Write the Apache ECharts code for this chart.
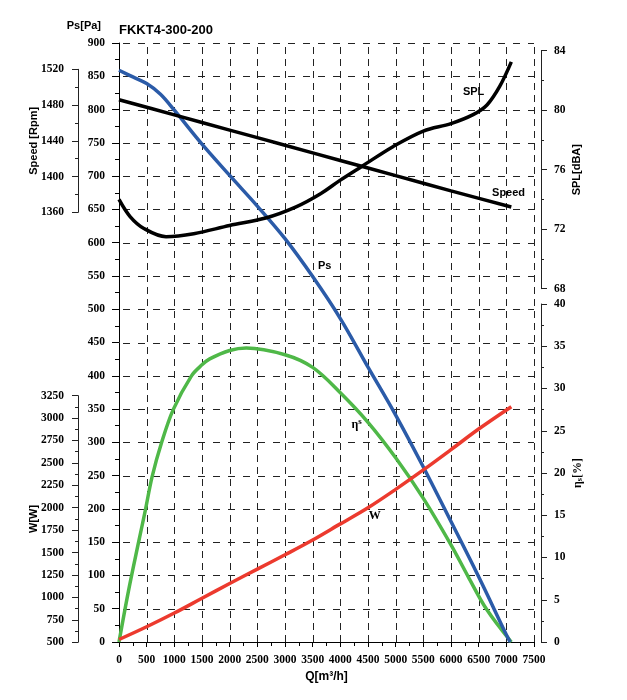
<!DOCTYPE html>
<html>
<head>
<meta charset="utf-8">
<script src="https://cdn.jsdelivr.net/npm/echarts@6/dist/echarts.min.js"></script>
<style>
html,body{margin:0;padding:0;background:#fff;}
#chart{width:627px;height:700px;}
</style>
</head>
<body>
<div id="chart"></div>
<script>
// ---- data ----
var qRange = [0, 7500];            // x-axis range, m3/h
var qStep = 500;
var psRange = [0, 900];
var psStep = 50;
var speedRange = [1360, 1520];
var splRange = [68, 84];
var wRange = [500, 3250];
var effRange = [0, 40];

var qPs = [0, 250, 500, 750, 1000, 1500, 2000, 2500, 3000, 3500, 4000, 4500, 5000, 5500, 6000, 6500, 7000, 7070];
var ps  = [859, 849, 839, 823, 799, 748, 701, 655, 606, 549, 486, 413, 341, 263, 181, 98, 11, 0];

var qSpeed = [0, 1000, 2000, 3000, 4000, 5000, 6000, 7090];
var speed  = [1486, 1469, 1452, 1435, 1418, 1401, 1384, 1366];

var qSpl = [0, 200, 450, 850, 1350, 2000, 2650, 3200, 3650, 4000, 4400, 4950, 5500, 6000, 6400, 6650, 6880, 7090];
var spl  = [74.0, 72.85, 72.05, 71.5, 71.7, 72.25, 72.75, 73.5, 74.4, 75.3, 76.25, 77.55, 78.6, 79.1, 79.7, 80.35, 81.6, 83.25];

var qW = [0, 500, 1000, 1500, 2000, 2500, 3000, 3500, 4000, 4500, 5000, 5500, 6000, 6500, 7090];
var w  = [530, 672, 825, 990, 1155, 1315, 1475, 1640, 1820, 2000, 2205, 2422, 2648, 2878, 3127];

var qEff = [0, 170, 350, 470, 600, 770, 980, 1310, 1500, 1640, 2000, 2300, 3000, 3500, 4000, 4500, 5000, 5500, 6000, 6305, 6640, 7090];
var eff  = [0, 6, 11.7, 15.4, 19.6, 23.6, 27.5, 31.5, 32.8, 33.5, 34.5, 34.8, 34.0, 32.5, 29.5, 26.0, 21.8, 17.0, 11.5, 7.8, 3.9, 0];

// curve label anchor points (data coordinates)
var labelPs = [3718, 565];
var labelSpeed = [7040, 1381.6];
var labelSpl = [6408, 81.2];
var labelEff = [4296, 25.7];
var labelW = [4621, 1905];

function pairs(xs, ys){ return xs.map(function(x,i){ return [x, ys[i]]; }); }
function plain(v){ return String(v); }
function steps(lo, hi, st){ var a = []; for (var v = lo; v <= hi + 1e-9; v += st) a.push(v); return a; }

var gridQ = steps(qRange[0] + qStep, qRange[1], qStep);
var gridP = steps(psRange[0] + psStep, psRange[1], psStep);

var serif = 'Liberation Serif';
var sans = 'Liberation Sans';
var tickLabel = {fontFamily: serif, fontWeight: 'bold', fontSize: 11.5, color: '#000', formatter: plain};
var nameStyle = {fontFamily: sans, fontWeight: 'bold', fontSize: 11, color: '#000'};

function hiddenX(gi){
  return {type:'value', gridIndex: gi, min: qRange[0], max: qRange[1], show: false};
}
function sideY(gi, range, interval, pos, offset, name, nameGap, extra){
  var o = {
    type:'value', gridIndex: gi, min: range[0], max: range[1], interval: interval,
    position: pos, offset: offset,
    axisLine: {show: true, onZero: false, lineStyle: {color: '#222', width: 1}},
    axisTick: {show: true, length: 6, lineStyle: {color: '#222'}},
    minorTick: {show: true, splitNumber: 2, length: 3, lineStyle: {color: '#222'}},
    splitLine: {show: false},
    axisLabel: Object.assign({margin: pos === 'left' ? 14 : 13}, tickLabel),
    name: name, nameLocation: 'middle', nameRotate: 90, nameGap: nameGap,
    nameMoveOverlap: false,
    nameTextStyle: nameStyle
  };
  if (extra) Object.assign(o, extra);
  return o;
}
function lbl(coord, text, style){
  return {
    symbol: 'circle', symbolSize: 1, silent: true,
    itemStyle: {color: 'transparent'},
    label: Object.assign({show: true, position: 'inside', formatter: text}, style),
    data: [{coord: coord}]
  };
}

// dashed grid drawn as short segments through the axes' own scale
function renderGrid(params, api){
  var ch = [];
  var st = {stroke: '#222', lineWidth: 1};
  gridQ.forEach(function(q){
    var a = api.coord([q, psRange[0]]), b = api.coord([q, psRange[1]]);
    var x = Math.round(a[0]) + 0.5;
    for (var y = a[1]; y > b[1]; y -= 12) {
      ch.push({type: 'line', silent: true, shape: {x1: x, y1: y, x2: x, y2: Math.max(y - 7, b[1])}, style: st});
    }
  });
  gridP.forEach(function(p){
    var a = api.coord([qRange[0], p]), b = api.coord([qRange[1], p]);
    var y = Math.round(a[1]) + 0.5;
    for (var x = a[0] + 4; x < b[0]; x += 15) {
      ch.push({type: 'line', silent: true, shape: {x1: x, y1: y, x2: Math.min(x + 7, b[0]), y2: y}, style: st});
    }
  });
  return {type: 'group', children: ch};
}

var chart = echarts.init(document.getElementById('chart'), null, {renderer: 'canvas'});
var gridL = 119, gridR = 93;

var option = {
  animation: false,
  backgroundColor: '#fff',
  title: {
    text: 'FKKT4-300-200', left: 119, top: 24, padding: 0,
    textStyle: {fontFamily: sans, fontWeight: 'bold', fontSize: 13, color: '#000'}
  },
  grid: [
    {left: gridL, right: gridR, top: 43, height: 599},
    {left: gridL, right: gridR, top: 69.3, height: 143},
    {left: gridL, right: gridR, top: 50.7, height: 238},
    {left: gridL, right: gridR, top: 395.7, height: 246.5},
    {left: gridL, right: gridR, top: 304, height: 338}
  ],
  xAxis: [
    {
      type: 'value', gridIndex: 0, min: qRange[0], max: qRange[1], interval: qStep,
      axisLine: {show: true, onZero: false, lineStyle: {color: '#000', width: 1}},
      axisTick: {show: true, length: 5, lineStyle: {color: '#000'}},
      minorTick: {show: true, splitNumber: 2, length: 4, lineStyle: {color: '#000'}},
      splitLine: {show: false},
      axisLabel: Object.assign({margin: 12}, tickLabel),
      name: 'Q[m³/h]', nameLocation: 'middle', nameGap: 28,
      nameTextStyle: {fontFamily: sans, fontWeight: 'bold', fontSize: 12, color: '#000'}
    },
    hiddenX(1), hiddenX(2), hiddenX(3), hiddenX(4)
  ],
  yAxis: [
    {
      type: 'value', gridIndex: 0, min: psRange[0], max: psRange[1], interval: psStep, position: 'left',
      axisLine: {show: true, onZero: false, lineStyle: {color: '#000', width: 1}},
      axisTick: {show: true, length: 7, lineStyle: {color: '#000'}},
      minorTick: {show: true, splitNumber: 2, length: 4, lineStyle: {color: '#000'}},
      splitLine: {show: false},
      axisLabel: Object.assign({margin: 14}, tickLabel),
      name: 'Ps[Pa]', nameLocation: 'end', nameGap: 12,
      nameTextStyle: {fontFamily: sans, fontWeight: 'bold', fontSize: 11, color: '#000', align: 'right', padding: [0, 18, 0, 0]}
    },
    sideY(1, speedRange, 40, 'left', 41, 'Speed [Rpm]', 39),
    sideY(2, splRange, 4, 'right', 7, 'SPL[dBA]', 30),
    sideY(3, wRange, 250, 'left', 41, 'W[W]', 39),
    sideY(4, effRange, 5, 'right', 7, '{a|η}{b|s}{a|[%]}', 31, {
      nameTextStyle: {
        fontFamily: serif, fontWeight: 'bold', fontSize: 12, color: '#000',
        rich: {
          a: {fontFamily: serif, fontWeight: 'bold', fontSize: 12, color: '#000'},
          b: {fontFamily: serif, fontWeight: 'bold', fontSize: 8, color: '#000', padding: [4, 0, 0, 0]}
        }
      }
    })
  ],
  series: [
    {
      name: 'grid', type: 'custom', xAxisIndex: 0, yAxisIndex: 0, silent: true, z: 1,
      renderItem: renderGrid, data: [[0, 0]]
    },
    {
      name: 'Ps', type: 'line', xAxisIndex: 0, yAxisIndex: 0, smooth: 0.35, symbol: 'none',
      lineStyle: {color: '#2b5ba8', width: 3.5}, data: pairs(qPs, ps), z: 3,
      markPoint: lbl(labelPs, 'Ps', {fontFamily: sans, fontWeight: 'bold', fontSize: 11, color: '#000'})
    },
    {
      name: 'Speed', type: 'line', xAxisIndex: 1, yAxisIndex: 1, smooth: 0.3, symbol: 'none',
      lineStyle: {color: '#000', width: 3.5}, data: pairs(qSpeed, speed), z: 3,
      markPoint: lbl(labelSpeed, 'Speed', {fontFamily: sans, fontWeight: 'bold', fontSize: 11, color: '#000'})
    },
    {
      name: 'SPL', type: 'line', xAxisIndex: 2, yAxisIndex: 2, smooth: 0.35, symbol: 'none',
      lineStyle: {color: '#000', width: 3.5}, data: pairs(qSpl, spl), z: 3,
      markPoint: lbl(labelSpl, 'SPL', {fontFamily: sans, fontWeight: 'bold', fontSize: 11, color: '#000'})
    },
    {
      name: 'W', type: 'line', xAxisIndex: 3, yAxisIndex: 3, smooth: 0.35, symbol: 'none',
      lineStyle: {color: '#ec3a2e', width: 3.5}, data: pairs(qW, w), z: 4,
      markPoint: lbl(labelW, 'W', {fontFamily: serif, fontWeight: 'bold', fontSize: 12, color: '#000'})
    },
    {
      name: 'eff', type: 'line', xAxisIndex: 4, yAxisIndex: 4, smooth: 0.35, symbol: 'none',
      lineStyle: {color: '#4fb848', width: 3.5}, data: pairs(qEff, eff), z: 2,
      markPoint: lbl(labelEff, '{a|η}{b|s}', {
        fontFamily: serif, fontWeight: 'bold', fontSize: 12, color: '#000',
        rich: {
          a: {fontFamily: serif, fontWeight: 'bold', fontSize: 12, color: '#000'},
          b: {fontFamily: serif, fontWeight: 'bold', fontSize: 9, color: '#000', padding: [0, 0, 6, 0]}
        }
      })
    }
  ]
};
chart.setOption(option);
</script>
</body>
</html>
